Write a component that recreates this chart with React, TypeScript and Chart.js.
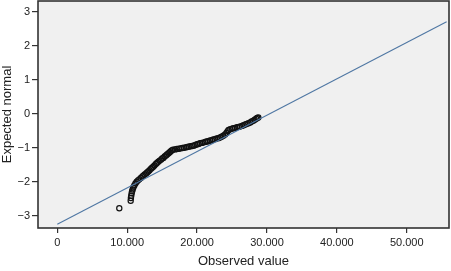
import React, { useEffect, useRef } from "react";
import { Chart, registerables } from "chart.js";

Chart.register(...registerables);

const observedValues = [
  8870, 10500, 10530, 10580, 10640, 10700, 10780, 10880, 11020, 11180, 11360, 11550, 11730, 11950,
  12150, 12300, 12500, 12700, 12850, 13020, 13200, 13400, 13560, 13730, 13900, 14100, 14250, 14450,
  14650, 14850, 15000, 15170, 15350, 15550, 15700, 15880, 16050, 16200, 16360, 16550, 16840, 17100,
  17400, 17650, 17900, 18150, 18400, 18600, 18800, 19050, 19300, 19500, 19750, 20000, 20200, 20410,
  20650, 20900, 21150, 21370, 21600, 21850, 22100, 22320, 22550, 22800, 23050, 23280, 23500, 23750,
  24000, 24200, 24350, 24500, 24750, 25000, 25200, 25450, 25700, 25950, 26140, 26400, 26650, 26900,
  27100, 27350, 27600, 27800, 28040, 28250, 28450, 28600, 28760,
];
const expectedNormal = [
  -2.77, -2.55, -2.47, -2.4, -2.33, -2.27, -2.22, -2.16, -2.1, -2.04, -1.99, -1.95, -1.92, -1.88,
  -1.84, -1.81, -1.78, -1.75, -1.72, -1.69, -1.65, -1.61, -1.58, -1.55, -1.51, -1.47, -1.44, -1.4,
  -1.37, -1.34, -1.31, -1.29, -1.25, -1.22, -1.19, -1.16, -1.13, -1.1, -1.07, -1.05, -1.04, -1.03,
  -1.02, -1.01, -1.0, -0.99, -0.98, -0.97, -0.96, -0.95, -0.94, -0.93, -0.91, -0.89, -0.88, -0.86,
  -0.85, -0.84, -0.82, -0.81, -0.8, -0.78, -0.77, -0.75, -0.74, -0.72, -0.71, -0.69, -0.67, -0.64,
  -0.6, -0.56, -0.51, -0.47, -0.45, -0.43, -0.42, -0.41, -0.39, -0.38, -0.37, -0.35, -0.33, -0.31,
  -0.29, -0.27, -0.25, -0.22, -0.2, -0.17, -0.14, -0.12, -0.1,
];
const refLineX = [0, 55700];
const refLineY = [-3.24, 2.71];
const xTicks = [0, 10000, 20000, 30000, 40000, 50000];
const yTicks = [-3, -2, -1, 0, 1, 2, 3];

const fmtX = (v: number) => (v === 0 ? "0" : Math.round(v / 1000) + ".000");
const fmtY = (v: number) => (v < 0 ? "\u2212" + Math.abs(v) : String(v));

const frame = {
  id: "frame",
  beforeDraw(chart: any) {
    const { ctx, chartArea: a } = chart;
    ctx.save();
    ctx.fillStyle = "#f0f0f0";
    ctx.fillRect(a.left, a.top, a.right - a.left, a.bottom - a.top);
    ctx.restore();
  },
  afterDraw(chart: any) {
    const { ctx, chartArea: a } = chart;
    ctx.save();
    ctx.strokeStyle = "#333";
    ctx.lineWidth = 1.6;
    ctx.strokeRect(a.left, a.top, a.right - a.left, a.bottom - a.top);
    ctx.restore();
  },
};

export default function App() {
  const ref = useRef<HTMLCanvasElement>(null);
  useEffect(() => {
    document.body.style.margin = "0";
    const font = "Arial, 'Liberation Sans', Helvetica, sans-serif";
    const chart = new Chart(ref.current!, {
      type: "scatter",
      data: {
        datasets: [
          {
            type: "line",
            data: refLineX.map((x, i) => ({ x, y: refLineY[i] })),
            borderColor: "#4f77a3",
            borderWidth: 1.1,
            pointRadius: 0,
            fill: false,
          } as any,
          {
            data: observedValues.map((x, i) => ({ x, y: expectedNormal[i] })),
            pointStyle: "circle",
            pointRadius: 2.6,
            borderColor: "#111",
            borderWidth: 1.2,
            backgroundColor: "rgba(0,0,0,0)",
          },
        ],
      },
      options: {
        responsive: false,
        animation: false,
        devicePixelRatio: 1,
        layout: { autoPadding: false, padding: { top: 1, right: 2, left: 0, bottom: 0 } },
        plugins: { legend: { display: false }, tooltip: { enabled: false } },
        scales: {
          x: {
            type: "linear",
            min: -2760,
            max: 56040,
            afterBuildTicks: (s: any) => {
              s.ticks = xTicks.map((v) => ({ value: v }));
            },
            afterFit: (s: any) => {
              s.height = 43;
              s.paddingLeft = 0;
              s.paddingRight = 0;
            },
            grid: { drawOnChartArea: false, drawTicks: true, tickLength: 5, color: "#333", lineWidth: 1.2 },
            border: { display: false },
            ticks: {
              callback: (v: any) => fmtX(Number(v)),
              color: "#222",
              font: { family: font, size: 11 },
              padding: 3,
              maxRotation: 0,
            },
            title: {
              display: true,
              text: "Observed value",
              color: "#222",
              font: { family: font, size: 13 },
              padding: { top: 0, bottom: 2 },
            },
          },
          y: {
            type: "linear",
            min: -3.35,
            max: 3.32,
            afterBuildTicks: (s: any) => {
              s.ticks = yTicks.map((v) => ({ value: v }));
            },
            afterFit: (s: any) => {
              s.width = 38;
              s.paddingTop = 0;
              s.paddingBottom = 0;
            },
            grid: { drawOnChartArea: false, drawTicks: true, tickLength: 6, color: "#333", lineWidth: 1.2 },
            border: { display: false },
            ticks: {
              callback: (v: any) => fmtY(Number(v)),
              color: "#222",
              font: { family: font, size: 11 },
              padding: 2,
            },
            title: {
              display: true,
              text: "Expected normal",
              color: "#222",
              font: { family: font, size: 13 },
              padding: 0,
            },
          },
        },
      },
      plugins: [frame],
    });
    return () => chart.destroy();
  }, []);
  return (
    <div style={{ width: 451, height: 271, background: "#fff" }}>
      <canvas ref={ref} width={451} height={271} style={{ display: "block" }} />
    </div>
  );
}
